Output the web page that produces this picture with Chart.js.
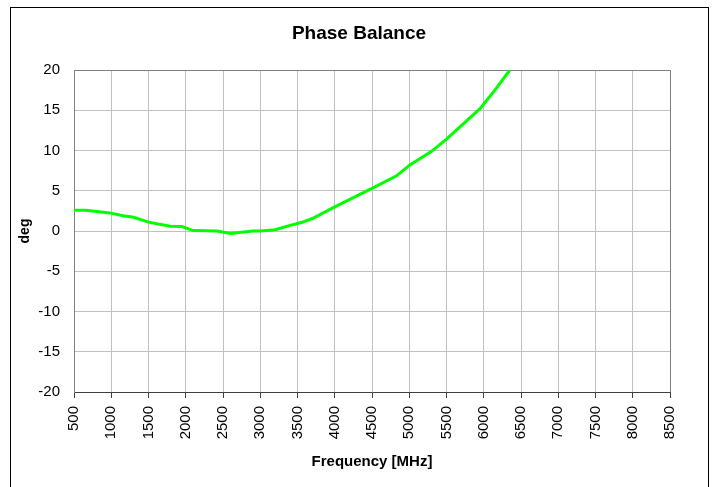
<!DOCTYPE html>
<html>
<head>
<meta charset="utf-8">
<script src="https://cdn.jsdelivr.net/npm/chart.js@4/dist/chart.umd.min.js"></script>
<style>
  html, body { margin: 0; padding: 0; background: #ffffff; }
  #c { display: block; }
</style>
</head>
<body>
<canvas id="c" width="713" height="487"></canvas>
<script>
// ---- Data ----
const frequencies = [500, 660, 980, 1160, 1300, 1500, 1790, 1950, 2100, 2420, 2600, 2900, 3000, 3200, 3400, 3550, 3700, 4000, 4500, 4830, 5000, 5300, 5500, 5950, 6150, 6350];
const phaseBalance = [2.57, 2.57, 2.25, 1.9, 1.7, 1.1, 0.58, 0.55, 0.05, 0.0, -0.32, 0.0, 0.0, 0.15, 0.7, 1.05, 1.55, 3.0, 5.3, 6.85, 8.15, 9.9, 11.4, 15.2, 17.5, 20.0];
const xTickLabels = ['500','1000','1500','2000','2500','3000','3500','4000','4500','5000','5500','6000','6500','7000','7500','8000','8500'];
const yTickLabels = ['-20','-15','-10','-5','0','5','10','15','20'];
const chartTitle = 'Phase Balance';
const xAxisTitle = 'Frequency [MHz]';
const yAxisTitle = 'deg';

const FONT = '"Liberation Sans", Arial, sans-serif';

const points = frequencies.map((f, i) => ({ x: f, y: phaseBalance[i] }));

const frame = {
  id: 'frame',
  beforeDraw(chart) {
    const ctx = chart.ctx;
    ctx.save();
    ctx.fillStyle = '#ffffff';
    ctx.fillRect(0, 0, chart.width, chart.height);
    ctx.strokeStyle = '#000000';
    ctx.lineWidth = 1;
    ctx.strokeRect(10.5, 7.5, 698, 500);
    ctx.restore();
  }
};

new Chart(document.getElementById('c'), {
  type: 'line',
  data: {
    datasets: [{
      data: points,
      borderColor: '#00ff00',
      borderWidth: 3,
      pointRadius: 0,
      tension: 0,
      fill: false
    }]
  },
  options: {
    responsive: false,
    animation: false,
    layout: { padding: { left: 10, right: 5, top: 0, bottom: 0 } },
    plugins: {
      legend: { display: false },
      tooltip: { enabled: false },
      title: {
        display: true,
        text: chartTitle,
        color: '#000000',
        font: { family: FONT, size: 19, weight: 'bold' },
        padding: { top: 22.6, bottom: 24.6 }
      }
    },
    scales: {
      x: {
        type: 'linear',
        min: 500,
        max: 8500,
        afterFit(s) { s.height = 95; },
        ticks: {
          stepSize: 500,
          minRotation: 90,
          maxRotation: 90,
          autoSkip: false,
          padding: 8,
          color: '#000000',
          font: { family: FONT, size: 15 },
          callback: (v) => { const s = String(v); return xTickLabels.includes(s) ? s : ''; }
        },
        grid: {
          color: (c) => (c.tick && c.tick.value === 8500) ? '#808080' : '#c0c0c0',
          lineWidth: 1,
          drawTicks: true,
          tickLength: 6,
          tickColor: '#404040'
        },
        border: { display: true, color: '#404040', width: 1 },
        title: {
          display: true,
          text: xAxisTitle,
          color: '#000000',
          font: { family: FONT, size: 15, weight: 'bold' },
          padding: { top: 0, bottom: 16 }
        }
      },
      y: {
        type: 'linear',
        position: 'left',
        min: -20,
        max: 20,
        afterFit(s) { s.width = 64; },
        ticks: {
          stepSize: 5,
          padding: 14,
          color: '#000000',
          font: { family: FONT, size: 15 },
          callback: (v) => { const s = String(v); return yTickLabels.includes(s) ? s : ''; }
        },
        grid: {
          color: (c) => (c.tick && c.tick.value === 20) ? '#808080' : '#c0c0c0',
          lineWidth: 1,
          drawTicks: false
        },
        border: { display: true, color: '#808080', width: 1 },
        title: {
          display: true,
          text: yAxisTitle,
          color: '#000000',
          font: { family: FONT, size: 14, weight: 'bold' },
          padding: { top: 6.6, bottom: 0 }
        }
      },
      yR: {
        type: 'linear',
        position: 'right',
        display: true,
        afterFit(s) { s.width = 38; },
        ticks: { display: false },
        grid: { display: false, drawTicks: false },
        border: { display: false }
      }
    }
  },
  plugins: [frame]
});
</script>
</body>
</html>
